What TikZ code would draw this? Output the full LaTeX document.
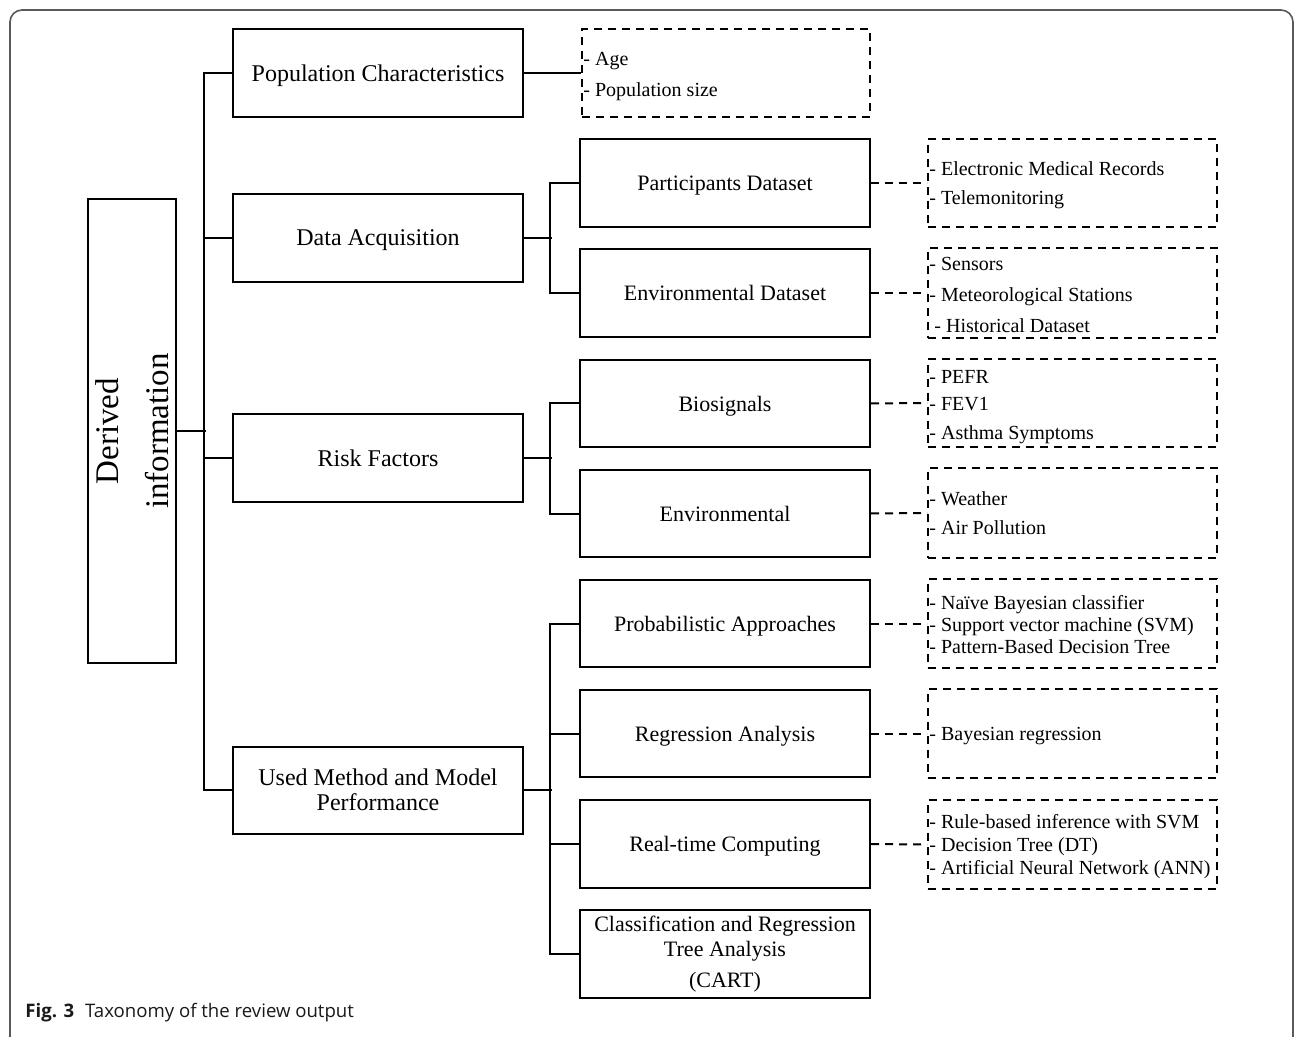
\documentclass[tikz,border=0pt]{standalone}
\usepackage{fontspec}
\setmainfont{Liberation Serif}
\newfontfamily\capfont{Open Sans}
\begin{document}
\begin{tikzpicture}[x=0.5pt,y=-0.5pt,
  conn/.style={draw=black, line width=1pt},
  dconn/.style={draw=black, line width=1pt, dash pattern=on 4pt off 3pt},
  mainbox/.style={draw=black, line width=1pt, minimum width=145pt, minimum height=44pt,
     inner sep=0pt, align=center, font=\fontsize{11}{12.5}\selectfont},
  topbox/.style={mainbox, font=\fontsize{12}{12.5}\selectfont},
  dbox/.style={draw=black, line width=1pt, dash pattern=on 4pt off 3pt,
     minimum width=144.5pt, minimum height=44pt, inner sep=0pt},
  item/.style={anchor=west, inner sep=0pt, text height=1.5ex, text depth=.25ex, yshift=-1pt,
     font=\fontsize{10}{12}\selectfont},
  rootbox/.style={draw=black, line width=1pt, minimum width=232pt, minimum height=44pt,
     inner sep=0pt, align=center, rotate=90, font=\fontsize{16.5}{25}\selectfont},
  frame/.style={draw=black!65, line width=0.8pt}
]
\useasboundingbox (0,0) rectangle (1295,1037);
% outer frame
\draw[frame] (10,1037) -- (10,22) arc[start angle=180, end angle=90, radius=6pt]
  -- (1281,10) arc[start angle=90, end angle=0, radius=6pt] -- (1293,1037);

% root
\node[rootbox] (root) at (132,431) {Derived\\information};

% level 1
\node[topbox, text depth=0pt] (pop)  at (378,73)  {Population Characteristics};
\node[topbox, text depth=0pt] (da)   at (378,238) {Data Acquisition};
\node[topbox, text depth=0pt] (rf)   at (378,458) {Risk Factors};
\node[topbox, minimum height=43.5pt] (used) at (378,790) {Used Method and Model\\Performance};

% level 2
\node[mainbox, text depth=0pt] (pd)   at (725,183) {Participants Dataset};
\node[mainbox, text depth=0pt] (ed)   at (725,293) {Environmental Dataset};
\node[mainbox, text depth=0pt, minimum height=43.5pt] (bs) at (725,403.5) {Biosignals};
\node[mainbox, text depth=0pt, minimum height=43.5pt] (env) at (725,513.5) {Environmental};
\node[mainbox, text depth=0pt, minimum height=43.5pt] (pa) at (725,623.5) {Probabilistic Approaches};
\node[mainbox, text depth=0pt, minimum height=43.5pt] (ra) at (725,733.5) {Regression Analysis};
\node[mainbox, text depth=0pt] (rt)   at (725,844) {Real-time Computing};
\node[mainbox] (cart) at (725,954) {Classification and Regression\\Tree Analysis\\[3pt](CART)};

% dashed boxes
\node[dbox, minimum width=144pt] (popd) at (726,73) {};
\node[dbox] (pdd)  at (1072.5,183) {};
\node[dbox, minimum height=45pt] (edd)  at (1072.5,293) {};
\node[dbox] (bsd)  at (1072.5,403) {};
\node[dbox, minimum height=45pt] (envd) at (1072.5,513) {};
\node[dbox, minimum height=44.5pt] (pad)  at (1072.5,623.5) {};
\node[dbox, minimum height=44.5pt] (rad)  at (1072.5,733.5) {};
\node[dbox, minimum height=44.5pt] (rtd)  at (1072.5,844.5) {};

% items
\node[item] (i1) at (583,58) {- Age};
\node[item] (i2) at (583,89) {- Population size};
\node[item] (i3) at (929,168) {- Electronic Medical Records};
\node[item] (i4) at (929,197) {- Telemonitoring};
\node[item] (i5) at (929,263) {- Sensors};
\node[item] (i6) at (929,294) {- Meteorological Stations};
\node[item] (i7) at (934,325) {- Historical Dataset};
\node[item] (i8) at (929,376) {- PEFR};
\node[item] (i9) at (929,403) {- FEV1};
\node[item] (i10) at (929,432) {- Asthma Symptoms};
\node[item] (i11) at (929,498) {- Weather};
\node[item] (i12) at (929,527) {- Air Pollution};
\node[item] (i13) at (929,602) {- Naïve Bayesian classifier};
\node[item] (i14) at (929,624) {- Support vector machine (SVM)};
\node[item] (i15) at (929,646) {- Pattern-Based Decision Tree};
\node[item] (i16) at (929,733) {- Bayesian regression};
\node[item] (i17) at (929,821) {- Rule-based inference with SVM};
\node[item] (i18) at (929,844) {- Decision Tree (DT)};
\node[item] (i19) at (929,867) {- Artificial Neural Network (ANN)};

% connectors level 0 -> 1
\draw[conn] (root.south) -- ++(29,0);
\draw[conn] (pop.west) -- ++(-28,0) |- (used.west);
\draw[conn] (da.west) -- ++(-28,0);
\draw[conn] (rf.west) -- ++(-28,0);

% level 1 -> 2
\draw[conn] (pop.east) -- (popd.west);
\draw[conn] (da.east) -- ++(28,0);
\draw[conn] (pd.west) -- ++(-29,0) |- (ed.west);
\draw[conn] (rf.east) -- ++(28,0);
\draw[conn] (bs.west) -- ++(-29,0) |- (env.west);
\draw[conn] (used.east) -- ++(28,0);
\draw[conn] (pa.west) -- ++(-29,0) |- (cart.west);
\draw[conn] (ra.west) -- ++(-29,0);
\draw[conn] (rt.west) -- ++(-29,0);

% dashed connectors
\draw[dconn] (pd.east) -- (pdd.west);
\draw[dconn] (ed.east) -- (edd.west);
\draw[dconn] (bs.east) -- (bsd.west);
\draw[dconn] (env.east) -- (envd.west);
\draw[dconn] (pa.east) -- (pad.west);
\draw[dconn] (ra.east) -- (rad.west);
\draw[dconn] (rt.east) -- (rtd.west);

% caption
\node[anchor=base west, inner sep=0pt, font=\capfont\fontsize{9.3}{11}\selectfont, text=black!90]
  (cap) at (25,1017) {\textbf{Fig. 3}\hspace{5.5pt}Taxonomy of the review output};
\end{tikzpicture}
\end{document}
